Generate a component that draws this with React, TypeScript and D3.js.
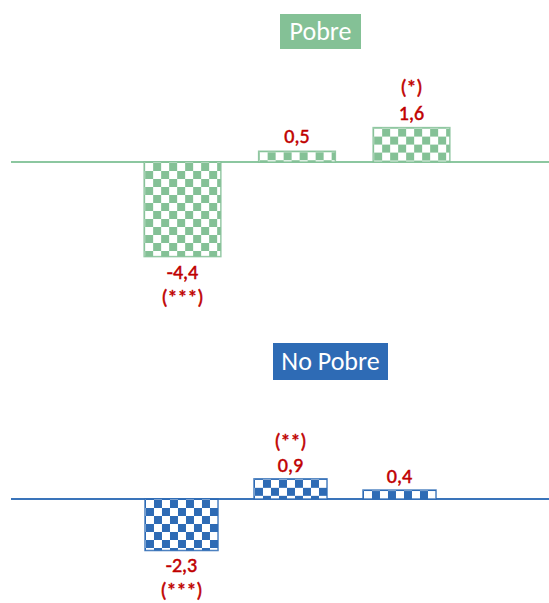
import React from "react";
import * as d3 from "d3";

const categories = ["c1", "c2", "c3"];
const pobreValues = [-4.4, 0.5, 1.6];
const pobreSig = ["(***)", "", "(*)"];
const noPobreValues = [-2.3, 0.9, 0.4];
const noPobreSig = ["(***)", "(**)", ""];
const panelTitles = ["Pobre", "No Pobre"];

const RED = "#c00000";
const W = 549;
const H = 603;
const FONT = "Carlito, Calibri, 'Liberation Sans', Arial, sans-serif";

const locale = d3.formatLocale({
  decimal: ",",
  thousands: ".",
  grouping: [3],
  currency: ["", "€"],
  minus: "-",
});
const fmt = locale.format(".1f");

type Panel = {
  id: string;
  title: string;
  values: number[];
  sig: string[];
  color: string;
  lineColor: string;
  baseline: number;
  pxPerUnit: number;
  xRange: [number, number];
  box: { x: number; y: number; w: number; h: number; textY: number };
  aboveGap: number;
  aboveSigGap: number;
  belowGap: number;
  belowSigGap: number;
};

const panels: Panel[] = [
  {
    id: "p",
    title: panelTitles[0],
    values: pobreValues,
    sig: pobreSig,
    color: "#84c196",
    lineColor: "#8cc7a0",
    baseline: 162,
    pxPerUnit: 21.5,
    xRange: [125.25, 468.75],
    box: { x: 280, y: 14, w: 81, h: 35, textY: 40 },
    aboveGap: 8,
    aboveSigGap: 26,
    belowGap: 22,
    belowSigGap: 25,
  },
  {
    id: "np",
    title: panelTitles[1],
    values: noPobreValues,
    sig: noPobreSig,
    color: "#2e6bb5",
    lineColor: "#3a74ba",
    baseline: 499,
    pxPerUnit: 22.4,
    xRange: [127, 454],
    box: { x: 273, y: 343, w: 115, h: 37, textY: 370 },
    aboveGap: 7,
    aboveSigGap: 24,
    belowGap: 21,
    belowSigGap: 25,
  },
];

function PanelView({ p }: { p: Panel }) {
  const x = d3
    .scaleBand<string>()
    .domain(categories)
    .range(p.xRange)
    .paddingInner(0.33)
    .paddingOuter(0.165);
  const y = d3
    .scaleLinear()
    .domain([-5, 2])
    .range([p.baseline + 5 * p.pxPerUnit, p.baseline - 2 * p.pxPerUnit]);
  const y0 = y(0);
  return (
    <g>
      <defs>
        {p.values.map((v, i) => {
          const bx = x(categories[i])!;
          const top = Math.min(y(v), y0);
          return (
            <pattern
              key={i}
              id={`pat-${p.id}-${i}`}
              patternUnits="userSpaceOnUse"
              x={bx + 1}
              y={top + 1}
              width={16}
              height={16}
            >
              <rect x={0} y={0} width={16} height={16} fill="#fff" />
              <rect x={8} y={0} width={8} height={8} fill={p.color} />
              <rect x={0} y={8} width={8} height={8} fill={p.color} />
            </pattern>
          );
        })}
      </defs>
      <rect x={p.box.x} y={p.box.y} width={p.box.w} height={p.box.h} fill={p.color} />
      <text
        x={p.box.x + p.box.w / 2}
        y={p.box.textY}
        textAnchor="middle"
        fill="#fff"
        fontSize={26}
        fontFamily={FONT}
      >
        {p.title}
      </text>
      <line x1={11} x2={W} y1={y0} y2={y0} stroke={p.lineColor} strokeWidth={2} />
      {p.values.map((v, i) => {
        const bx = x(categories[i])!;
        const bw = x.bandwidth();
        const top = Math.min(y(v), y0);
        const bottom = Math.max(y(v), y0);
        const cx = bx + bw / 2;
        const pos = v >= 0;
        const valY = pos ? top - p.aboveGap : bottom + p.belowGap;
        const sigY = pos ? valY - p.aboveSigGap : valY + p.belowSigGap;
        return (
          <g key={i}>
            <rect
              x={bx}
              y={top}
              width={bw}
              height={bottom - top}
              fill={`url(#pat-${p.id}-${i})`}
              stroke={p.color}
              strokeWidth={1.5}
              strokeOpacity={0.85}
            />
            <text
              x={cx}
              y={valY}
              textAnchor="middle"
              fill={RED}
              stroke={RED}
              strokeWidth={0.5}
              fontSize={20}
              fontFamily={FONT}
            >
              {fmt(v)}
            </text>
            {p.sig[i] && (
              <text
                x={cx}
                y={sigY}
                textAnchor="middle"
                fill={RED}
                stroke={RED}
                strokeWidth={0.5}
                fontSize={20}
                fontFamily={FONT}
              >
                {p.sig[i]}
              </text>
            )}
          </g>
        );
      })}
    </g>
  );
}

export default function App() {
  return (
    <svg
      width={W}
      height={H}
      viewBox={`0 0 ${W} ${H}`}
      style={{ position: "absolute", left: 0, top: 0, display: "block", background: "#fff" }}
    >
      <rect x={0} y={0} width={W} height={H} fill="#fff" />
      {panels.map((p) => (
        <PanelView key={p.id} p={p} />
      ))}
    </svg>
  );
}
